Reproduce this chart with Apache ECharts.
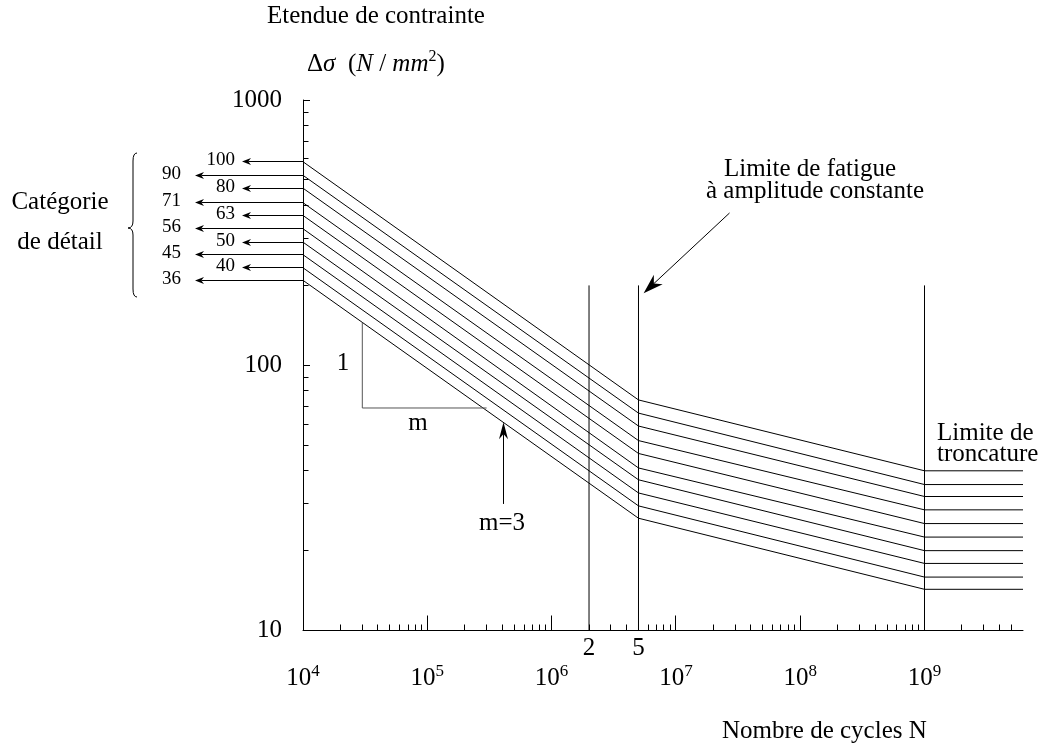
<!DOCTYPE html>
<html>
<head>
<meta charset="utf-8">
<script src="https://cdn.jsdelivr.net/npm/echarts@6/dist/echarts.min.js"></script>
<style>
  html, body { margin: 0; padding: 0; background: #fff; }
  #main { width: 1052px; height: 749px; }
</style>
</head>
<body>
<div id="main"></div>
<script>
// catégories de détail (N/mm2), de haut en bas
var categories = ['100', '90', '80', '71', '63', '56', '50', '45', '40', '36'];
// nombre de cycles aux cassures des courbes
var kneeCycles = [1e4, 5e6, 1e9, 6.2e9];
var stressAt1e4 = [585, 520, 465, 410, 367, 327, 291, 261, 233, 209];
var stressAt5e6 = [74, 66, 59, 52, 46.5, 41, 37, 33, 29.5, 26.5];
var stressAt1e9 = [40, 35.5, 32, 28.5, 25.3, 22.5, 20, 17.9, 15.9, 14.3];
// droites verticales (2e6, 5e6, 1e9)
var verticalCycles = [2e6, 5e6, 1e9];
var verticalTop = 200;
// triangle de pente 1/m
var slopeTriangle = [[3e4, 145], [3e4, 69], [3e5, 69]];

var X_MIN = 1e4, X_MAX = 6.2e9, Y_MIN = 10, Y_MAX = 1000;
var FONT = 'Liberation Serif';

// graduations secondaires
var xMajorTicks = [1e5, 1e6, 1e7, 1e8, 1e9];
var xMinorTicks = [];
[1e4, 1e5, 1e6, 1e7, 1e8].forEach(function (d) {
  for (var k = 2; k <= 9; k++) xMinorTicks.push(k * d);
});
[2e9, 3e9, 4e9, 5e9].forEach(function (v) { xMinorTicks.push(v); });
var yMinorTicks = [];
[10, 100].forEach(function (d) {
  for (var k = 2; k <= 9; k++) yMinorTicks.push(k * d);
});

var chart = echarts.init(document.getElementById('main'));

function tickRenderer(dir, len) {
  return function (params, api) {
    var p = api.coord([api.value(0), api.value(1)]);
    var x = Math.round(p[0] - 0.5) + 0.5, y = Math.round(p[1] - 0.5) + 0.5;
    var shape = dir === 'x'
      ? { x1: x, y1: y, x2: x, y2: y - len }
      : { x1: x, y1: y, x2: x + len, y2: y };
    return { type: 'line', shape: shape, style: { stroke: '#000', lineWidth: 1 } };
  };
}

var series = [];
categories.forEach(function (c, i) {
  series.push({
    name: c,
    type: 'line',
    symbol: 'none',
    silent: true,
    lineStyle: { color: '#000', width: 1 },
    data: [
      [kneeCycles[0], stressAt1e4[i]],
      [kneeCycles[1], stressAt5e6[i]],
      [kneeCycles[2], stressAt1e9[i]],
      [kneeCycles[3], stressAt1e9[i]]
    ]
  });
});
verticalCycles.forEach(function (n) {
  series.push({
    type: 'line', symbol: 'none', silent: true,
    lineStyle: { color: '#000', width: 1 },
    data: [[n, Y_MIN], [n, verticalTop]]
  });
});
series.push({
  type: 'line', symbol: 'none', silent: true,
  lineStyle: { color: '#555', width: 1 },
  data: slopeTriangle
});
series.push({
  type: 'custom', silent: true, clip: false,
  renderItem: tickRenderer('x', 15),
  data: xMajorTicks.map(function (v) { return [v, Y_MIN]; })
});
series.push({
  type: 'custom', silent: true, clip: false,
  renderItem: tickRenderer('x', 6),
  data: xMinorTicks.map(function (v) { return [v, Y_MIN]; })
});
series.push({
  type: 'custom', silent: true, clip: false,
  renderItem: tickRenderer('y', 5),
  data: yMinorTicks.map(function (v) { return [X_MIN, v]; })
});

var option = {
  animation: false,
  backgroundColor: '#fff',
  textStyle: { fontFamily: FONT, color: '#000' },
  grid: { left: 303, right: 29, top: 100, bottom: 118.5 },
  xAxis: {
    type: 'log', logBase: 10, min: X_MIN, max: X_MAX,
    axisLine: { lineStyle: { color: '#000', width: 1 } },
    axisTick: { show: false },
    splitLine: { show: false },
    axisLabel: {
      margin: 33,
      color: '#000',
      formatter: function (v) {
        var l = Math.log10(v), e = Math.round(l);
        if (Math.abs(l - e) > 1e-6) return '';
        return '{b|10}{s|' + e + '}';
      },
      rich: {
        b: { fontSize: 25, fontFamily: FONT, color: '#000', lineHeight: 30 },
        s: { fontSize: 17, fontFamily: FONT, color: '#000', verticalAlign: 'top' }
      }
    }
  },
  yAxis: {
    type: 'log', logBase: 10, min: Y_MIN, max: Y_MAX,
    axisLine: { show: true, lineStyle: { color: '#000', width: 1 } },
    axisTick: { show: true, inside: true, length: 7, lineStyle: { color: '#000' } },
    splitLine: { show: false },
    axisLabel: {
      margin: 21, fontSize: 25, fontFamily: FONT, color: '#000',
      formatter: function (v) { return String(Math.round(v)); }
    }
  },
  series: series
};
chart.setOption(option);

function px(x, y) { return chart.convertToPixel({ gridIndex: 0 }, [x, y]); }
function crisp(v) { return Math.round(v - 0.5) + 0.5; }

function text(str, x, y, size, align, extra) {
  var st = { text: str, fontSize: size, fontFamily: FONT, fill: '#000', align: align || 'left', verticalAlign: 'middle' };
  if (extra) for (var k in extra) st[k] = extra[k];
  return { type: 'text', x: x, y: y, silent: true, style: st };
}

function arrow(x1, y1, x2, y2, len, wid) {
  var dx = x1 - x2, dy = y1 - y2, d = Math.sqrt(dx * dx + dy * dy);
  var ux = dx / d, uy = dy / d, nx = -uy, ny = ux;
  var bx = x2 + ux * len, by = y2 + uy * len;
  var mx = x2 + ux * len * 0.7, my = y2 + uy * len * 0.7;
  return [
    { type: 'line', silent: true, shape: { x1: x1, y1: y1, x2: mx, y2: my }, style: { stroke: '#000', lineWidth: 1 } },
    { type: 'polygon', silent: true, shape: { points: [[x2, y2], [bx + nx * wid / 2, by + ny * wid / 2], [mx, my], [bx - nx * wid / 2, by - ny * wid / 2]] }, style: { fill: '#000' } }
  ];
}

var g = [];
// titres des axes
g.push(text('Etendue de contrainte', 267, 16.5, 25));
g.push(text('{n|Δ}{i|σ}{n|  (}{i|N}{n| / }{i|mm}{s|2}{n|)}', 307, 64, 25, 'left', {
  rich: {
    n: { fontSize: 25, fontFamily: FONT, lineHeight: 30 },
    i: { fontSize: 25, fontFamily: FONT, fontStyle: 'italic', lineHeight: 30 },
    s: { fontSize: 16, fontFamily: FONT, verticalAlign: 'top' }
  }
}));
g.push(text('Nombre de cycles N', 722, 731.5, 25));

// catégories de détail
g.push(text('Catégorie', 60, 202, 25, 'center'));
g.push(text('de détail', 60, 242, 25, 'center'));
var braceStyle = { stroke: '#000', lineWidth: 1, fill: 'none' };
g.push({ type: 'bezierCurve', silent: true, shape: { x1: 137, y1: 153, x2: 133, y2: 161, cpx1: 133, cpy1: 153 }, style: braceStyle });
g.push({ type: 'line', silent: true, shape: { x1: 133, y1: 161, x2: 133, y2: 221 }, style: braceStyle });
g.push({ type: 'bezierCurve', silent: true, shape: { x1: 133, y1: 221, x2: 128, y2: 228, cpx1: 133, cpy1: 228 }, style: braceStyle });
g.push({ type: 'bezierCurve', silent: true, shape: { x1: 128, y1: 228, x2: 133, y2: 235, cpx1: 133, cpy1: 228 }, style: braceStyle });
g.push({ type: 'line', silent: true, shape: { x1: 133, y1: 235, x2: 133, y2: 289 }, style: braceStyle });
g.push({ type: 'bezierCurve', silent: true, shape: { x1: 133, y1: 289, x2: 137, y2: 297, cpx1: 133, cpy1: 297 }, style: braceStyle });
categories.forEach(function (c, i) {
  var p = px(X_MIN, stressAt1e4[i]);
  var y = crisp(p[1]);
  var right = i % 2 === 0;
  var tip = right ? 242 : 195;
  g.push.apply(g, arrow(p[0], y, tip, y, 9, 7));
  g.push(text(c, right ? 235 : 181, y - 1.5, 19, 'right'));
});

// pente
g.push(text('1', 343, 363, 25, 'center'));
g.push(text('m', 418, 423, 25, 'center'));
g.push(text('m=3', 502, 523, 25, 'center'));
var a1 = px(4.1e5, 30), a2 = px(4.1e5, 61);
g.push.apply(g, arrow(crisp(a1[0]), a1[1], crisp(a2[0]), a2[1], 17, 9));

// limite de fatigue
g.push(text('Limite de fatigue', 810, 169.5, 25, 'center'));
g.push(text('à amplitude constante', 815, 191.5, 25, 'center'));
var f1 = px(2.7e7, 375), f2 = px(5.5e6, 187);
g.push.apply(g, arrow(f1[0], f1[1], f2[0], f2[1], 20, 13));

// 2 et 5 (x 10^6)
g.push(text('2', px(2e6, Y_MIN)[0], 648.5, 25, 'center'));
g.push(text('5', px(5e6, Y_MIN)[0], 648.5, 25, 'center'));

// limite de troncature
g.push(text('Limite de', 937, 433.5, 25));
g.push(text('troncature', 937, 454.5, 25));

chart.setOption({ graphic: g });
</script>
</body>
</html>
